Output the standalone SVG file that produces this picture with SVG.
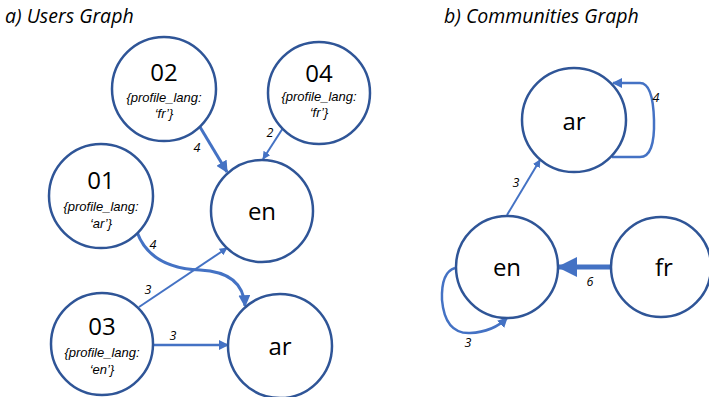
<svg xmlns="http://www.w3.org/2000/svg" width="709" height="397" viewBox="0 0 709 397">
<defs>
<style>
.node{fill:#fff;stroke:#2F5597;stroke-width:2.5}
.big{font-family:"Open Sans","Liberation Sans",sans-serif;font-size:24px;fill:#000;text-anchor:middle}
.attr{font-family:"Liberation Sans",Arial,sans-serif;font-size:13px;font-style:italic;fill:#000;text-anchor:middle}
.lbl{font-family:"Open Sans","Liberation Sans",sans-serif;font-size:12.5px;font-style:italic;fill:#000;text-anchor:middle}
.title{font-family:"Open Sans","Liberation Sans",sans-serif;font-size:19.5px;font-style:italic;fill:#000}
.e{fill:none;stroke:#4472C4;marker-end:url(#ah)}
</style>
<marker id="ah" viewBox="0 0 10 10" refX="9" refY="5" markerWidth="4" markerHeight="4" orient="auto" markerUnits="strokeWidth">
<path d="M0,0 L10,5 L0,10 z" fill="#4472C4"/>
</marker>
</defs>
<rect width="709" height="397" fill="#fff"/>
<text class="title" x="5" y="23">a) Users Graph</text>
<text class="title" x="444" y="23">b) Communities Graph</text>
<g id="connectors">
<path class="e" d="M200,127 L227,172" stroke-width="3"/>
<path class="e" d="M283,128 L263,159" stroke-width="2"/>
<path class="e" d="M137,232 Q150,268 200,270 Q243,272 245,306" stroke-width="3"/>
<path class="e" d="M139,307 L227,248" stroke-width="2"/>
<path class="e" d="M153,345 L228,345" stroke-width="2.5"/>
<path class="e" d="M507,215 L540,160" stroke-width="2"/>
<path class="e" d="M612,157 L640,157 Q655,157 654,120 Q653,83 640,83 L613,83" stroke-width="2.5"/>
<path class="e" d="M612,267 L559,267" stroke-width="5"/>
<path class="e" d="M455,268 Q441,272 442,300 Q445,334 470,333 Q493,332 507,318" stroke-width="2.5"/>
<text class="lbl" x="197" y="152">4</text>
<text class="lbl" x="270" y="137">2</text>
<text class="lbl" x="153" y="249">4</text>
<text class="lbl" x="148" y="294">3</text>
<text class="lbl" x="173" y="340">3</text>
<text class="lbl" x="516" y="187">3</text>
<text class="lbl" x="656" y="102">4</text>
<text class="lbl" x="590" y="286">6</text>
<text class="lbl" x="468" y="347">3</text>
</g>
<g id="n02"><circle class="node" cx="164" cy="89" r="52"/><text class="big" x="164" y="81">02</text><text class="attr" x="164" y="102">{profile_lang:</text><text class="attr" x="164" y="118">‘fr’}</text></g>
<g id="n04"><circle class="node" cx="319" cy="93" r="51"/><text class="big" x="319" y="82">04</text><text class="attr" x="319" y="101">{profile_lang:</text><text class="attr" x="319" y="117">‘fr’}</text></g>
<g id="n01"><circle class="node" cx="101" cy="196" r="52"/><text class="big" x="101" y="189">01</text><text class="attr" x="101" y="211">{profile_lang:</text><text class="attr" x="101" y="228">‘ar’}</text></g>
<g id="nen1"><circle class="node" cx="262" cy="211" r="51"/><text class="big" x="262" y="220">en</text></g>
<g id="n03"><circle class="node" cx="102" cy="344" r="51"/><text class="big" x="102" y="335">03</text><text class="attr" x="102" y="357">{profile_lang:</text><text class="attr" x="102" y="374">‘en’}</text></g>
<g id="nar1"><circle class="node" cx="280" cy="346" r="52"/><text class="big" x="280" y="355">ar</text></g>
<g id="nar2"><circle class="node" cx="574" cy="120" r="52"/><text class="big" x="574" y="130">ar</text></g>
<g id="nen2"><circle class="node" cx="507" cy="267" r="51"/><text class="big" x="507" y="276">en</text></g>
<g id="nfr"><circle class="node" cx="661" cy="267" r="50"/><text class="big" x="664" y="276">fr</text></g>
</svg>
